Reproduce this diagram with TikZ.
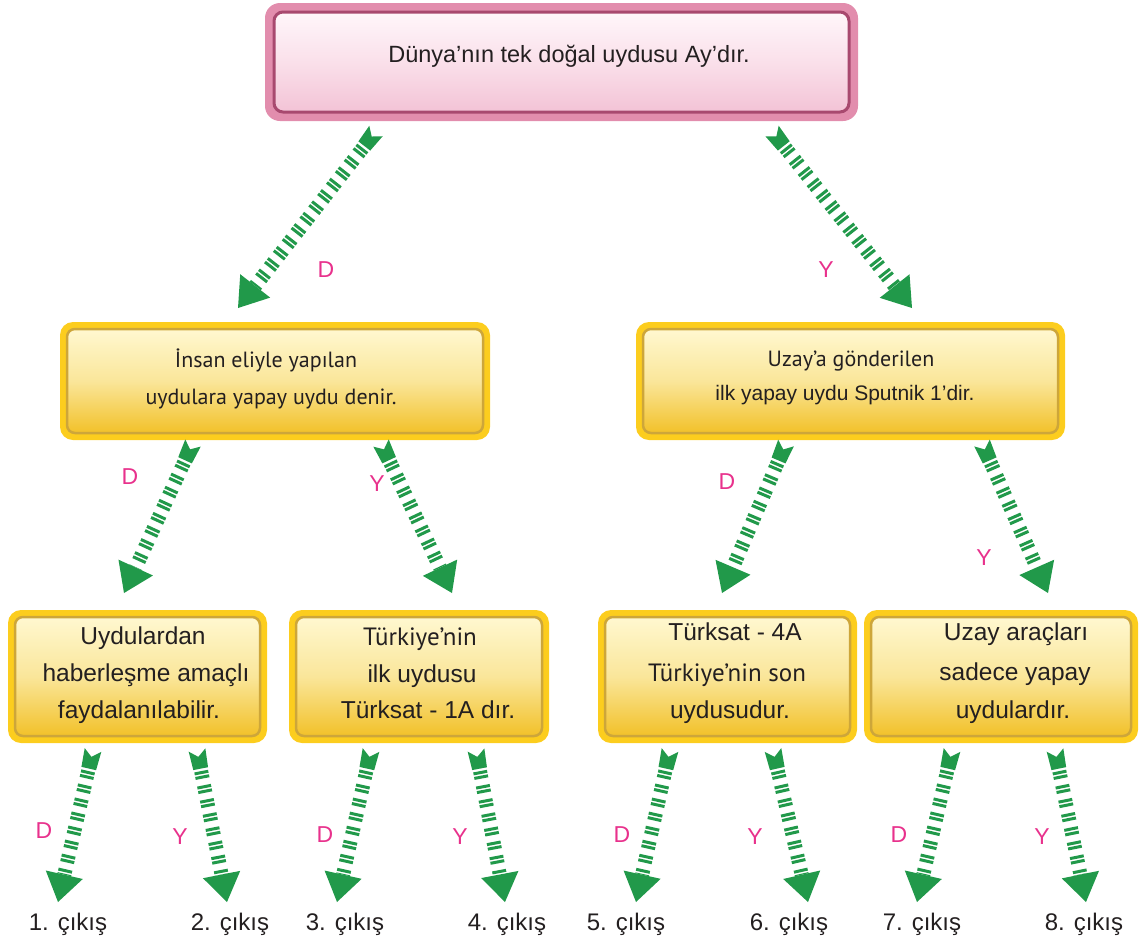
\documentclass[tikz,border=0pt]{standalone}
\usepackage{fontspec}
\setmainfont{Liberation Sans}
\newfontfamily\myr{PT Sans}
\usetikzlibrary{calc}
\definecolor{agreen}{HTML}{21994A}
\definecolor{lmag}{HTML}{E8318C}
\definecolor{txtc}{HTML}{231F20}
\definecolor{yring}{HTML}{FCCD1E}
\definecolor{yedge}{HTML}{CDA63A}
\definecolor{ytop}{HTML}{FFF8D0}
\definecolor{ymid}{HTML}{FAE69A}
\definecolor{ybot}{HTML}{F2C129}
\definecolor{pring}{HTML}{E28DAD}
\definecolor{pedge}{HTML}{A8496F}
\definecolor{ptop}{HTML}{FFF6FA}
\definecolor{pmid}{HTML}{FAE0EA}
\definecolor{pbot}{HTML}{F3C3D6}
\tikzset{
  yout/.style={fill=yring, rounded corners=13pt, inner sep=0pt, outer sep=0pt},
  yin/.style={draw=yedge, line width=2.5pt, rounded corners=8pt, top color=ytop, bottom color=ybot, middle color=ymid, inner sep=0pt, outer sep=0pt},
  pout/.style={fill=pring, rounded corners=15pt, inner sep=0pt, outer sep=0pt},
  pin/.style={draw=pedge, line width=3pt, rounded corners=9pt, top color=ptop, bottom color=pbot, middle color=pmid, inner sep=0pt, outer sep=0pt},
  txt/.style={text=txtc, inner sep=0pt, text height=0.72em, text depth=0.2em},
  lab/.style={text=lmag, inner sep=0pt, font=\fontsize{23}{26}\selectfont},
  outl/.style={txt, font=\fontsize{24}{28}\selectfont},
}
\newcommand\garrow[2]{%
  \coordinate (gA) at ($(#1)!19pt!(#2)$);
  \coordinate (gB) at ($(#2)!28pt!(#1)$);
  \fill[agreen] ($(#1)!8.5pt!90:(#2)$) -- ($(#1)!7pt!(#2)$) -- ($(#1)!8.5pt!-90:(#2)$)
     -- ($(gA)!7.5pt!-90:(#2)$) -- ($(gA)!7.5pt!90:(#2)$) -- cycle;
  \draw[agreen, line width=14pt, dash pattern=on 3pt off 1.6pt on 3pt off 6.8pt] ($(#1)!21.5pt!(#2)$) -- (gB);
  \fill[agreen] (#2) -- ($(gB)!19pt!90:(#2)$) -- ($(gB)!19pt!-90:(#2)$) -- cycle;
}
\begin{document}
\begin{tikzpicture}[x=1pt,y=-1pt]
\useasboundingbox (0,0) rectangle (1139,946);
% top box
\node[pout, minimum width=593pt, minimum height=118pt] (top) at (561.5,62) {};
\node[pin, minimum width=575pt, minimum height=100pt] (topi) at (top.center) {};
\node[txt, font=\fontsize{23.5}{28}\selectfont] (t0) at (569,60) {Dünya’nın tek doğal uydusu Ay’dır.};
% middle boxes
\node[yout, minimum width=430pt, minimum height=118pt] (ml) at (275,381) {};
\node[yin, minimum width=416pt, minimum height=104pt] (mli) at (ml.center) {};
\node[txt, font=\myr\fontsize{22}{26}\selectfont] (ml1) at (266,365) {İnsan eliyle yapılan};
\node[txt, font=\myr\fontsize{22}{26}\selectfont] (ml2) at (271,402) {uydulara yapay uydu denir.};
\node[yout, minimum width=429pt, minimum height=118pt] (mr) at (850.5,381) {};
\node[yin, minimum width=415pt, minimum height=104pt] (mri) at (mr.center) {};
\node[txt, font=\myr\fontsize{22}{26}\selectfont] (mr1) at (851,364) {Uzay’a gönderilen};
\node[txt, font=\fontsize{21}{25}\selectfont] (mr2) at (845,398) {ilk yapay uydu Sputnik 1’dir.};
% bottom boxes
\node[yout, minimum width=259pt, minimum height=133pt] (b1) at (137.5,676.5) {};
\node[yin, minimum width=245pt, minimum height=119pt] (b1i) at (b1.center) {};
\node[yout, minimum width=260pt, minimum height=133pt] (b2) at (419,676.5) {};
\node[yin, minimum width=246pt, minimum height=119pt] (b2i) at (b2.center) {};
\node[yout, minimum width=259pt, minimum height=133pt] (b3) at (727.5,676.5) {};
\node[yin, minimum width=245pt, minimum height=119pt] (b3i) at (b3.center) {};
\node[yout, minimum width=274pt, minimum height=133pt] (b4) at (1001,676.5) {};
\node[yin, minimum width=260pt, minimum height=119pt] (b4i) at (b4.center) {};
\tikzset{bt/.style={txt, font=\fontsize{24.5}{28}\selectfont}, bm/.style={txt, font=\myr\fontsize{25}{28}\selectfont}}
\node[bt] (b1a) at (143,642) {Uydulardan};
\node[bt] (b1b) at (146,679) {haberleşme amaçlı};
\node[bt] (b1c) at (139,716) {faydalanılabilir.};
\node[bm] (b2a) at (420,643) {Türkiye’nin};
\node[bt] (b2b) at (422,680) {ilk uydusu};
\node[bt] (b2c) at (428,716) {Türksat - 1A dır.};
\node[bt] (b3a) at (735,638) {Türksat - 4A};
\node[bm] (b3b) at (727,679) {Türkiye’nin son};
\node[bt] (b3c) at (730,716) {uydusudur.};
\node[bt] (b4a) at (1016,638) {Uzay araçları};
\node[bt] (b4b) at (1015,678) {sadece yapay};
\node[bt] (b4c) at (1013,716) {uydulardır.};
% outputs
\node[outl] (o1) at (68,928) {1. çıkış};
\node[outl] (o2) at (230,928) {2. çıkış};
\node[outl] (o3) at (345,928) {3. çıkış};
\node[outl] (o4) at (507,928) {4. çıkış};
\node[outl] (o5) at (626,928) {5. çıkış};
\node[outl] (o6) at (789,928) {6. çıkış};
\node[outl] (o7) at (922,928) {7. çıkış};
\node[outl] (o8) at (1084,928) {8. çıkış};
% arrow end points
\coordinate (a1s) at (376,131); \coordinate (a1e) at (238,308);
\coordinate (a2s) at (772,131); \coordinate (a2e) at (912,308);
\coordinate (a3s) at (193,443); \coordinate (a3e) at (124,593);
\coordinate (a4s) at (381,443); \coordinate (a4e) at (452,593);
\coordinate (a5s) at (786,443); \coordinate (a5e) at (722,593);
\coordinate (a6s) at (982,443); \coordinate (a6e) at (1048,593);
\coordinate (c1s) at (93,750);  \coordinate (c1e) at (58,902);
\coordinate (c2s) at (197,750); \coordinate (c2e) at (227,902);
\coordinate (c3s) at (371,750); \coordinate (c3e) at (337,902);
\coordinate (c4s) at (476,750); \coordinate (c4e) at (505,902);
\coordinate (c5s) at (670,750); \coordinate (c5e) at (636,902);
\coordinate (c6s) at (773,750); \coordinate (c6e) at (808,902);
\coordinate (c7s) at (952,750); \coordinate (c7e) at (917,902);
\coordinate (c8s) at (1055,750); \coordinate (c8e) at (1086,902);
\garrow{a1s}{a1e}\garrow{a2s}{a2e}\garrow{a3s}{a3e}\garrow{a4s}{a4e}
\garrow{a5s}{a5e}\garrow{a6s}{a6e}
\garrow{c1s}{c1e}\garrow{c2s}{c2e}\garrow{c3s}{c3e}\garrow{c4s}{c4e}
\garrow{c5s}{c5e}\garrow{c6s}{c6e}\garrow{c7s}{c7e}\garrow{c8s}{c8e}
% labels
\node[lab] (l1) at (326,270) {D};
\node[lab] (l2) at (826,270) {Y};
\node[lab] (l3) at (130,477) {D};
\node[lab] (l4) at (377,484) {Y};
\node[lab] (l5) at (727,482) {D};
\node[lab] (l6) at (984,558) {Y};
\node[lab] (l7) at (44,831) {D};
\node[lab] (l8) at (180,837) {Y};
\node[lab] (l9) at (325,835) {D};
\node[lab] (l10) at (460,837) {Y};
\node[lab] (l11) at (622,835) {D};
\node[lab] (l12) at (755,837) {Y};
\node[lab] (l13) at (899,835) {D};
\node[lab] (l14) at (1042,837) {Y};
\end{tikzpicture}
\end{document}
